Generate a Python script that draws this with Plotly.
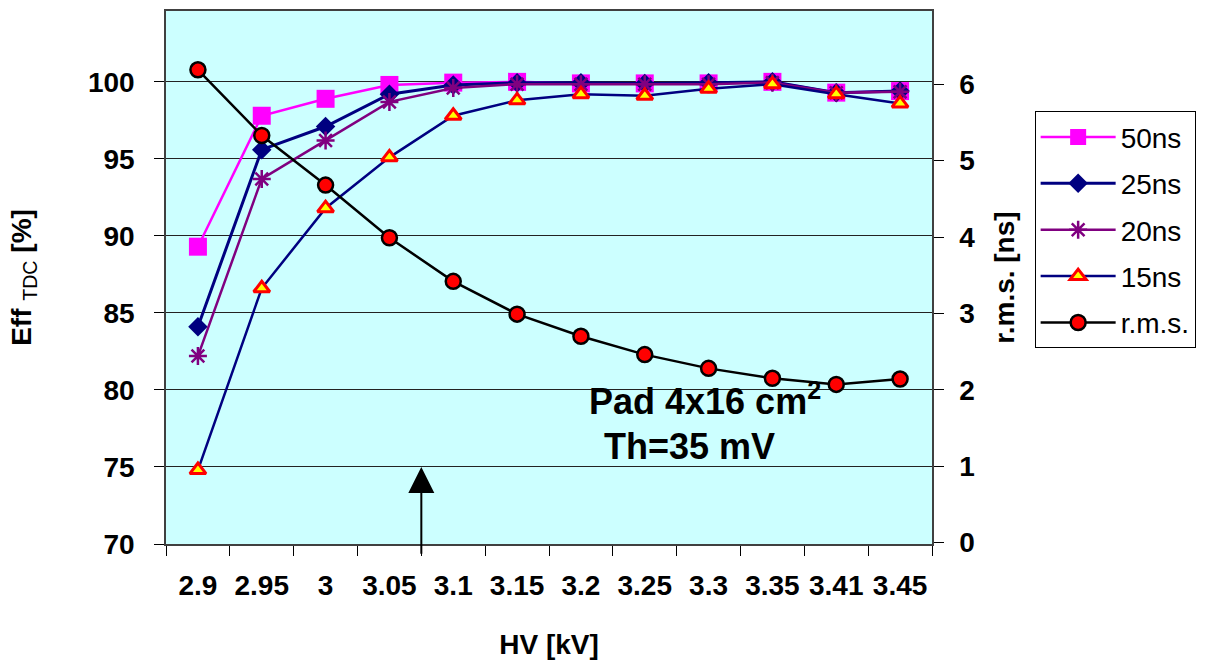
import plotly.graph_objects as go

hv = ["2.9", "2.95", "3", "3.05", "3.1", "3.15", "3.2", "3.25", "3.3", "3.35", "3.41", "3.45"]
eff_50ns = [89.3, 97.8, 98.9, 99.8, 99.95, 100.0, 99.9, 99.9, 99.9, 100.0, 99.3, 99.4]
eff_25ns = [84.1, 95.6, 97.1, 99.2, 99.8, 99.95, 99.95, 99.9, 99.95, 100.0, 99.3, 99.4]
eff_20ns = [82.2, 93.7, 96.2, 98.7, 99.6, 99.85, 99.85, 99.85, 99.85, 99.95, 99.3, 99.35]
eff_15ns = [74.8, 86.6, 91.8, 95.1, 97.8, 98.8, 99.2, 99.1, 99.55, 99.85, 99.2, 98.6]
rms_ns = [6.19, 5.33, 4.68, 3.99, 3.42, 2.99, 2.70, 2.46, 2.28, 2.15, 2.07, 2.14]

left_ticks = [70, 75, 80, 85, 90, 95, 100]
right_ticks = [0, 1, 2, 3, 4, 5, 6]

FONT = "Arial, Liberation Sans, sans-serif"

fig = go.Figure()
fig.add_trace(go.Scatter(x=hv, y=eff_50ns, name="50ns", legendgroup="a", mode="lines+markers",
                         line=dict(color="#FF00FF", width=2.5),
                         marker=dict(symbol="square", size=18, color="#FF00FF")))
fig.add_trace(go.Scatter(x=hv, y=eff_25ns, name="25ns", legendgroup="b", mode="lines+markers",
                         line=dict(color="#000080", width=3),
                         marker=dict(symbol="diamond", size=15, color="#000080")))
fig.add_trace(go.Scatter(x=hv, y=eff_20ns, name="20ns", legendgroup="c", mode="lines+markers",
                         line=dict(color="#800080", width=2.5),
                         marker=dict(symbol="asterisk-open", size=15, color="#800080",
                                     line=dict(color="#800080", width=2.5))))
fig.add_trace(go.Scatter(x=hv, y=eff_15ns, name="15ns", legendgroup="d", mode="lines+markers",
                         line=dict(color="#000080", width=2.5),
                         marker=dict(symbol="triangle-up", size=14, color="#FFFF00",
                                     line=dict(color="#FF0000", width=3))))
fig.add_trace(go.Scatter(x=hv, y=rms_ns, name="r.m.s.", legendgroup="e", mode="lines+markers",
                         yaxis="y2",
                         line=dict(color="#000000", width=2.5),
                         marker=dict(symbol="circle", size=15, color="#FF0000",
                                     line=dict(color="#000000", width=2.5))))

tickfont = dict(family=FONT, size=28, color="black", weight="bold")
titlefont = dict(family=FONT, size=28, color="black", weight="bold")

fig.update_layout(
    width=1216, height=664,
    margin=dict(l=166, r=284, t=9, b=117),
    paper_bgcolor="white",
    plot_bgcolor="#CCFFFF",
    showlegend=True,
    xaxis=dict(type="category", categoryorder="array", categoryarray=hv,
               range=[-0.5, 11.5], tickson="boundaries", ticks="outside", ticklen=10,
               tickcolor="black", showline=True, linecolor="#404040", linewidth=1.5,
               mirror=True, showgrid=False, tickfont=tickfont, ticklabelstandoff=16,
               title=dict(text="HV [kV]", font=titlefont, standoff=34)),
    yaxis=dict(range=[70, 104.6], tickvals=left_ticks, ticks="outside", ticklen=10,
               tickcolor="black", showline=True, linecolor="#404040", linewidth=1.5,
               showgrid=True, gridcolor="#222222", gridwidth=1, zeroline=False,
               tickfont=tickfont, ticklabelstandoff=14,
               title=dict(text="Eff <span style=\"font-weight:normal\"><sub>TDC</sub></span> [%]",
                          font=titlefont, standoff=48)),
    yaxis2=dict(range=[-0.02, 6.96], tickvals=right_ticks, ticks="outside", ticklen=10,
                overlaying="y", side="right", tickcolor="black", showline=True,
                linecolor="#404040", linewidth=1.5, showgrid=False, zeroline=False,
                tickfont=tickfont, ticklabelstandoff=10,
                title=dict(text="r.m.s. [ns]", font=titlefont, standoff=20)),
    legend=dict(x=1.134, y=0.812, xanchor="left", yanchor="top",
                bgcolor="white", bordercolor="black", borderwidth=1,
                font=dict(family=FONT, size=28, color="black"),
                tracegroupgap=7, itemwidth=75),
)

fig.add_annotation(text="Pad 4x16 cm<sup>2</sup>", xref="x", yref="y", x=7.95, y=79.43,
                   xanchor="center", yanchor="middle", showarrow=False,
                   font=dict(family=FONT, size=36, color="black", weight="bold"))
fig.add_annotation(text="Th=35 mV", xref="x", yref="y", x=7.7, y=76.35,
                   xanchor="center", yanchor="middle", showarrow=False,
                   font=dict(family=FONT, size=36, color="black", weight="bold"))

fig.add_annotation(text="", x=3.5, y=75, xref="x", yref="y", ax=3.5, ay=69.27,
                   axref="x", ayref="y", showarrow=True, arrowhead=2, arrowsize=2.6,
                   arrowwidth=2, arrowcolor="black")

fig.write_html("out.html")
